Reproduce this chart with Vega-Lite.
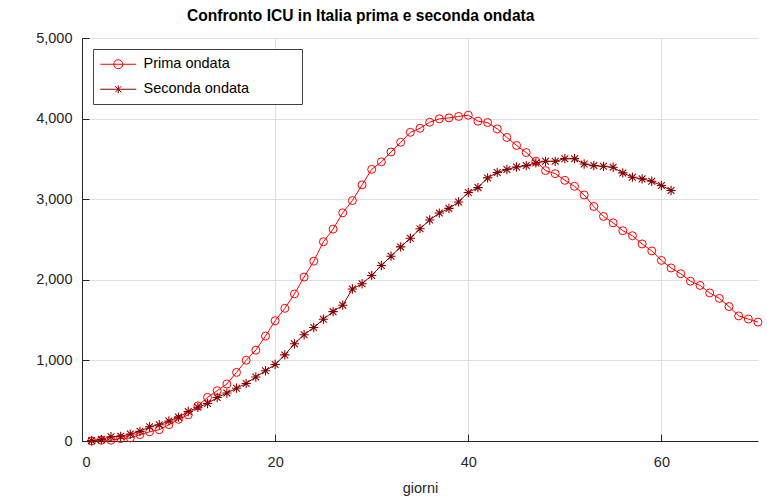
{
  "$schema": "https://vega.github.io/schema/vega-lite/v6.json",
  "width": 676,
  "height": 403,
  "autosize": {"type": "none"},
  "padding": {"left": 82, "top": 38, "right": 9, "bottom": 61},
  "background": "white",
  "title": {"text": "Confronto ICU in Italia prima e seconda ondata", "anchor": "start", "frame": "group", "dx": 105, "offset": 5, "fontSize": 15.6, "font": "Liberation Sans", "fontWeight": "bold", "color": "#000000"},
  "config": {"view": {"stroke": null}},
  "data": {"values": [
    {"giorno":1,"serie":"Prima ondata","icu":0},{"giorno":2,"serie":"Prima ondata","icu":9},{"giorno":3,"serie":"Prima ondata","icu":10},{"giorno":4,"serie":"Prima ondata","icu":30},{"giorno":5,"serie":"Prima ondata","icu":38},{"giorno":6,"serie":"Prima ondata","icu":79},{"giorno":7,"serie":"Prima ondata","icu":114},{"giorno":8,"serie":"Prima ondata","icu":140},{"giorno":9,"serie":"Prima ondata","icu":203},{"giorno":10,"serie":"Prima ondata","icu":269},
    {"giorno":11,"serie":"Prima ondata","icu":325},{"giorno":12,"serie":"Prima ondata","icu":436},{"giorno":13,"serie":"Prima ondata","icu":541},{"giorno":14,"serie":"Prima ondata","icu":624},{"giorno":15,"serie":"Prima ondata","icu":707},{"giorno":16,"serie":"Prima ondata","icu":851},{"giorno":17,"serie":"Prima ondata","icu":1002},{"giorno":18,"serie":"Prima ondata","icu":1127},{"giorno":19,"serie":"Prima ondata","icu":1302},{"giorno":20,"serie":"Prima ondata","icu":1492},
    {"giorno":21,"serie":"Prima ondata","icu":1646},{"giorno":22,"serie":"Prima ondata","icu":1825},{"giorno":23,"serie":"Prima ondata","icu":2034},{"giorno":24,"serie":"Prima ondata","icu":2231},{"giorno":25,"serie":"Prima ondata","icu":2472},{"giorno":26,"serie":"Prima ondata","icu":2629},{"giorno":27,"serie":"Prima ondata","icu":2831},{"giorno":28,"serie":"Prima ondata","icu":2983},{"giorno":29,"serie":"Prima ondata","icu":3178},{"giorno":30,"serie":"Prima ondata","icu":3370},
    {"giorno":31,"serie":"Prima ondata","icu":3463},{"giorno":32,"serie":"Prima ondata","icu":3586},{"giorno":33,"serie":"Prima ondata","icu":3706},{"giorno":34,"serie":"Prima ondata","icu":3830},{"giorno":35,"serie":"Prima ondata","icu":3880},{"giorno":36,"serie":"Prima ondata","icu":3955},{"giorno":37,"serie":"Prima ondata","icu":3997},{"giorno":38,"serie":"Prima ondata","icu":4009},{"giorno":39,"serie":"Prima ondata","icu":4027},{"giorno":40,"serie":"Prima ondata","icu":4042},
    {"giorno":41,"serie":"Prima ondata","icu":3968},{"giorno":42,"serie":"Prima ondata","icu":3951},{"giorno":43,"serie":"Prima ondata","icu":3872},{"giorno":44,"serie":"Prima ondata","icu":3766},{"giorno":45,"serie":"Prima ondata","icu":3667},{"giorno":46,"serie":"Prima ondata","icu":3579},{"giorno":47,"serie":"Prima ondata","icu":3471},{"giorno":48,"serie":"Prima ondata","icu":3355},{"giorno":49,"serie":"Prima ondata","icu":3317},{"giorno":50,"serie":"Prima ondata","icu":3234},
    {"giorno":51,"serie":"Prima ondata","icu":3160},{"giorno":52,"serie":"Prima ondata","icu":3053},{"giorno":53,"serie":"Prima ondata","icu":2910},{"giorno":54,"serie":"Prima ondata","icu":2786},{"giorno":55,"serie":"Prima ondata","icu":2707},{"giorno":56,"serie":"Prima ondata","icu":2609},{"giorno":57,"serie":"Prima ondata","icu":2547},{"giorno":58,"serie":"Prima ondata","icu":2445},{"giorno":59,"serie":"Prima ondata","icu":2358},{"giorno":60,"serie":"Prima ondata","icu":2241},
    {"giorno":61,"serie":"Prima ondata","icu":2147},{"giorno":62,"serie":"Prima ondata","icu":2076},{"giorno":63,"serie":"Prima ondata","icu":1983},{"giorno":64,"serie":"Prima ondata","icu":1930},{"giorno":65,"serie":"Prima ondata","icu":1837},{"giorno":66,"serie":"Prima ondata","icu":1769},{"giorno":67,"serie":"Prima ondata","icu":1668},{"giorno":68,"serie":"Prima ondata","icu":1552},{"giorno":69,"serie":"Prima ondata","icu":1513},{"giorno":70,"serie":"Prima ondata","icu":1475},
    {"giorno":1,"serie":"Seconda ondata","icu":5},{"giorno":2,"serie":"Seconda ondata","icu":20},{"giorno":3,"serie":"Seconda ondata","icu":53},{"giorno":4,"serie":"Seconda ondata","icu":58},{"giorno":5,"serie":"Seconda ondata","icu":86},{"giorno":6,"serie":"Seconda ondata","icu":120},{"giorno":7,"serie":"Seconda ondata","icu":177},{"giorno":8,"serie":"Seconda ondata","icu":202},{"giorno":9,"serie":"Seconda ondata","icu":249},{"giorno":10,"serie":"Seconda ondata","icu":296},
    {"giorno":11,"serie":"Seconda ondata","icu":366},{"giorno":12,"serie":"Seconda ondata","icu":418},{"giorno":13,"serie":"Seconda ondata","icu":465},{"giorno":14,"serie":"Seconda ondata","icu":540},{"giorno":15,"serie":"Seconda ondata","icu":595},{"giorno":16,"serie":"Seconda ondata","icu":655},{"giorno":17,"serie":"Seconda ondata","icu":714},{"giorno":18,"serie":"Seconda ondata","icu":794},{"giorno":19,"serie":"Seconda ondata","icu":872},{"giorno":20,"serie":"Seconda ondata","icu":949},
    {"giorno":21,"serie":"Seconda ondata","icu":1068},{"giorno":22,"serie":"Seconda ondata","icu":1206},{"giorno":23,"serie":"Seconda ondata","icu":1318},{"giorno":24,"serie":"Seconda ondata","icu":1408},{"giorno":25,"serie":"Seconda ondata","icu":1511},{"giorno":26,"serie":"Seconda ondata","icu":1605},{"giorno":27,"serie":"Seconda ondata","icu":1685},{"giorno":28,"serie":"Seconda ondata","icu":1886},{"giorno":29,"serie":"Seconda ondata","icu":1951},{"giorno":30,"serie":"Seconda ondata","icu":2054},
    {"giorno":31,"serie":"Seconda ondata","icu":2177},{"giorno":32,"serie":"Seconda ondata","icu":2293},{"giorno":33,"serie":"Seconda ondata","icu":2408},{"giorno":34,"serie":"Seconda ondata","icu":2515},{"giorno":35,"serie":"Seconda ondata","icu":2634},{"giorno":36,"serie":"Seconda ondata","icu":2742},{"giorno":37,"serie":"Seconda ondata","icu":2828},{"giorno":38,"serie":"Seconda ondata","icu":2886},{"giorno":39,"serie":"Seconda ondata","icu":2966},{"giorno":40,"serie":"Seconda ondata","icu":3084},
    {"giorno":41,"serie":"Seconda ondata","icu":3144},{"giorno":42,"serie":"Seconda ondata","icu":3264},{"giorno":43,"serie":"Seconda ondata","icu":3332},{"giorno":44,"serie":"Seconda ondata","icu":3368},{"giorno":45,"serie":"Seconda ondata","icu":3400},{"giorno":46,"serie":"Seconda ondata","icu":3417},{"giorno":47,"serie":"Seconda ondata","icu":3450},{"giorno":48,"serie":"Seconda ondata","icu":3470},{"giorno":49,"serie":"Seconda ondata","icu":3470},{"giorno":50,"serie":"Seconda ondata","icu":3503},
    {"giorno":51,"serie":"Seconda ondata","icu":3503},{"giorno":52,"serie":"Seconda ondata","icu":3437},{"giorno":53,"serie":"Seconda ondata","icu":3417},{"giorno":54,"serie":"Seconda ondata","icu":3408},{"giorno":55,"serie":"Seconda ondata","icu":3396},{"giorno":56,"serie":"Seconda ondata","icu":3326},{"giorno":57,"serie":"Seconda ondata","icu":3273},{"giorno":58,"serie":"Seconda ondata","icu":3252},{"giorno":59,"serie":"Seconda ondata","icu":3223},{"giorno":60,"serie":"Seconda ondata","icu":3170},
    {"giorno":61,"serie":"Seconda ondata","icu":3108}
  ]},
  "encoding": {
    "x": {"field": "giorno", "type": "quantitative", "scale": {"domain": [0, 70], "nice": false},
      "axis": {"values": [0, 20, 40, 60], "title": "giorni", "grid": true, "gridColor": "#dfdfdf", "domainColor": "#262626", "tickColor": "#262626", "tickSize": -7, "labelPadding": 21, "labelFont": "Liberation Sans", "labelFontSize": 14.5, "labelColor": "#262626", "titleFont": "Liberation Sans", "titleFontSize": 14.5, "titleFontWeight": "normal", "titleColor": "#262626", "titlePadding": 13}},
    "y": {"field": "icu", "type": "quantitative", "scale": {"domain": [0, 5000], "nice": false},
      "axis": {"values": [0, 1000, 2000, 3000, 4000, 5000], "format": ",d", "title": null, "grid": true, "gridColor": "#dfdfdf", "domainColor": "#262626", "tickColor": "#262626", "tickSize": -7, "labelPadding": 17, "labelFont": "Liberation Sans", "labelFontSize": 14.5, "labelColor": "#262626"}},
    "color": {"field": "serie", "type": "nominal",
      "scale": {"domain": ["Prima ondata", "Seconda ondata"], "range": ["#ff0000", "#8b0000"]},
      "legend": {"orient": "none", "legendX": 11, "legendY": 11, "title": null, "padding": 8, "fillColor": "white", "strokeColor": "#404040", "cornerRadius": 0,
        "labelFont": "Liberation Sans", "labelFontSize": 14.5, "labelColor": "#000000", "symbolSize": 100, "symbolStrokeWidth": 1, "symbolOffset": 10, "labelOffset": 18, "rowPadding": 10,
        "labelExpr": "datum.label == 'Seconda ondata' ? datum.label + '\u00a0\u00a0\u00a0\u00a0\u00a0\u00a0\u00a0\u00a0\u00a0\u00a0\u00a0\u200b' : datum.label",
        "encode": {"symbols": {"update": {
          "shape": {"signal": "datum.value == 'Prima ondata' ? 'M-3.6,0H3.6M0.9,0A0.9,0.9 0 1,1 -0.9,0A0.9,0.9 0 1,1 0.9,0' : 'M-3.6,0H3.6M0,-0.8V0.8M-0.6,-0.6L0.6,0.6M-0.6,0.6L0.6,-0.6'"},
          "fill": {"value": "transparent"}}}}}
    }
  },
  "layer": [
    {
      "mark": {"type": "line", "strokeWidth": 1}
    },
    {
      "transform": [{"filter": "datum.serie == 'Prima ondata'"}],
      "mark": {"type": "point", "filled": false, "strokeWidth": 1, "opacity": 1, "size": 64, "shape": "circle"}
    },
    {
      "transform": [{"filter": "datum.serie == 'Seconda ondata'"}],
      "mark": {"type": "point", "filled": false, "strokeWidth": 1.1, "opacity": 1, "size": 72, "shape": "M-1.1,0H1.1M0,-1.1V1.1M-0.8,-0.8L0.8,0.8M-0.8,0.8L0.8,-0.8"}
    }
  ]
}
